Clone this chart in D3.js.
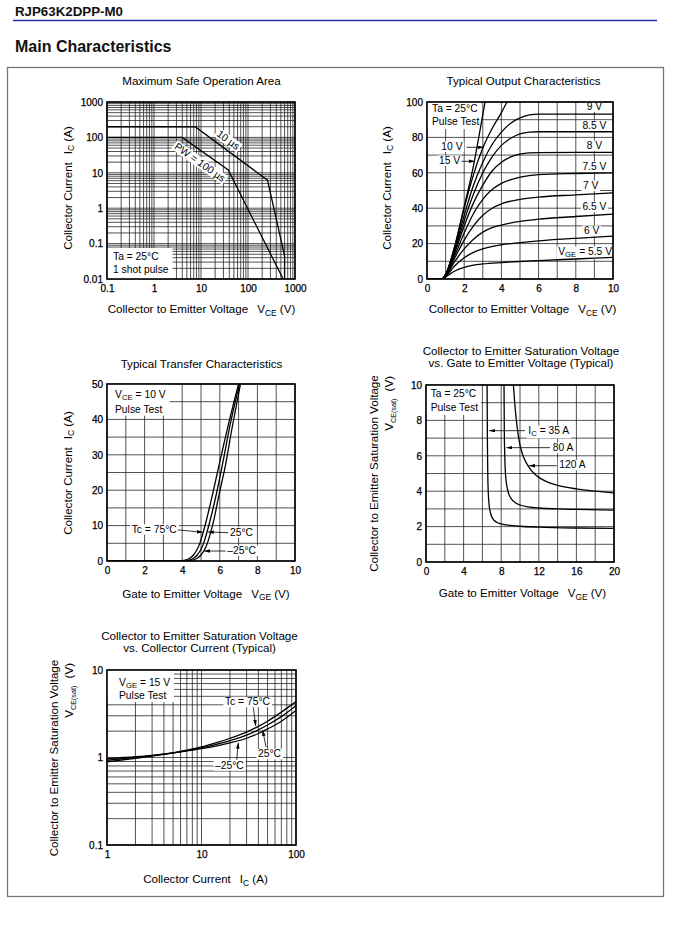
<!DOCTYPE html>
<html>
<head>
<meta charset="utf-8">
<script src="https://cdn.jsdelivr.net/npm/d3@7"></script>
<style>
html,body{margin:0;padding:0;background:#fff;}
svg{display:block;}
</style>
</head>
<body>
<svg id="page" width="681" height="927"></svg>
<script>
// ================= DATA =================
// Chart 1: Maximum Safe Operation Area (VCE [V], IC [A])
const soaVceTicks = [0.1, 1, 10, 100, 1000];
const soaIcTicks = [0.01, 0.1, 1, 10, 100, 1000];
const soa10us = [[0.1,200],[7.5,200],[260,6.2],[600,0.045],[600,0.01]];
const soa100us = [[0.1,100],[4,100],[38,12],[560,0.01]];

// Chart 2: Typical Output Characteristics (VCE [V], IC [A])
const outVceTicks = [0,2,4,6,8,10];
const outIcTicks = [0,20,40,60,80,100];
const outVceGrid = [0,1,2,3,4,5,6,7,8,9,10];
const outIcGrid = [0,10,20,30,40,50,60,70,80,90,100];
const outVge15 = [[0,0],[0.8,0],[1.0,2.5],[1.2,8],[1.5,19],[2.0,41],[2.5,64],[2.85,84],[3.12,100]];
const outVge10 = [[0,0],[0.8,0],[1.0,2.5],[1.2,8],[1.5,18.5],[2.0,40],[2.5,59],[3.0,74],[3.5,85],[4.0,94],[4.3,100]];
const outVge9 = [[0,0],[0.8,0],[1.0,2.4],[1.5,17],[2.0,36],[2.5,53],[3.0,66],[3.5,76],[4.0,83],[4.5,88],[5.0,91],[5.5,92.7],[6.0,93.2],[8,93.2],[10,93.2]];
const outVge8_5 = [[0,0],[0.8,0],[1.0,2.4],[1.5,16],[2.0,33],[2.5,48],[3.0,60],[3.5,69],[4.0,75.5],[4.5,79.5],[5.0,82],[5.5,83],[6.0,83.2],[8,83.2],[10,83.2]];
const outVge8 = [[0,0],[0.8,0],[1.0,2.3],[1.5,15],[2.0,30],[2.5,43],[3.0,53],[3.5,61],[4.0,66],[4.5,69],[5.0,70.5],[5.5,71.2],[6.0,71.4],[8,71.5],[10,71.5]];
const outVge7_5 = [[0,0],[0.8,0],[1.0,2.2],[1.5,13.5],[2.0,26],[2.5,37],[3.0,45],[3.5,50.5],[4.0,54],[5.0,57.5],[6.0,59],[8.0,59.6],[10,60]];
const outVge7 = [[0,0],[0.8,0],[1.0,2.0],[1.5,12],[2.0,22],[2.5,30],[3.0,36],[3.5,40],[4.0,42.5],[5.0,45],[6.0,46.3],[8.0,47.5],[10,48.7]];
const outVge6_5 = [[0,0],[0.8,0],[1.0,1.8],[1.5,10],[2.0,17],[2.5,22.5],[3.0,26.5],[3.5,29],[4.0,30.5],[5.0,32.5],[6.0,33.8],[8.0,35.3],[10,36.7]];
const outVge6 = [[0,0],[0.8,0],[1.0,1.5],[1.5,7.5],[2.0,12],[2.5,15],[3.0,17],[4.0,19.3],[5.0,20.5],[6.0,21.5],[8.0,23],[10,24.2]];
const outVge5_5 = [[0,0],[0.8,0],[1.0,1.2],[1.5,4.5],[2.0,6.5],[2.5,7.8],[3.0,8.5],[4.0,9.3],[5.0,9.9],[6.0,10.4],[8.0,11.3],[10,12.2]];

// Chart 3: Typical Transfer Characteristics (VGE [V], IC [A])
const trVgeTicks = [0,2,4,6,8,10];
const trIcTicks = [0,10,20,30,40,50];
const trVgeGrid = [0,1,2,3,4,5,6,7,8,9,10];
const trIcGrid = [0,5,10,15,20,25,30,35,40,45,50];
const trTc75 = [[0,0],[3.7,0],[4.1,0.2],[4.4,0.8],[4.6,1.7],[4.8,3.3],[4.95,5.2],[5.1,7.8],[5.3,11.8],[5.6,18.5],[6.0,28],[6.5,39.5],[7.0,50]];
const trTc25 = [[0,0],[3.9,0],[4.3,0.2],[4.6,0.8],[4.8,1.7],[5.0,3.3],[5.15,5.2],[5.3,7.8],[5.5,11.8],[5.8,18.5],[6.15,27.5],[6.55,38.5],[7.05,50]];
const trTcM25 = [[0,0],[4.1,0],[4.5,0.2],[4.8,0.8],[5.0,1.7],[5.2,3.3],[5.35,5.2],[5.5,7.8],[5.7,12],[5.95,18.5],[6.3,27],[6.65,37.5],[7.1,50]];

// Chart 4: VCE(sat) vs VGE (VGE [V], VCE(sat) [V])
const satVgeTicks = [0,4,8,12,16,20];
const satVceTicks = [0,2,4,6,8,10];
const satVgeGrid = [0,2,4,6,8,10,12,14,16,18,20];
const satVceGrid = [0,1,2,3,4,5,6,7,8,9,10];
const satIc35 = [[6.5,10],[6.53,7],[6.57,5],[6.62,4],[6.7,3.3],[6.85,2.8],[7.1,2.45],[7.5,2.25],[8,2.15],[9,2.07],[10,2.02],[12,1.97],[16,1.92],[20,1.9]];
const satIc80 = [[8.3,10],[8.33,7.5],[8.38,6],[8.45,5],[8.6,4.3],[8.8,3.85],[9.1,3.55],[9.5,3.35],[10,3.22],[11,3.1],[12,3.05],[14,3.0],[16,2.97],[20,2.93]];
const satIc120 = [[9.3,10],[9.5,8.6],[9.7,7.6],[10,6.6],[10.4,5.9],[10.9,5.4],[11.5,5.0],[12,4.78],[13,4.5],[14,4.33],[16,4.13],[18,4.0],[20,3.9]];

// Chart 5: VCE(sat) vs IC (IC [A], VCE(sat) [V])
const sicIcTicks = [1, 10, 100];
const sicVceTicks = [0.1, 1, 10];
const sicTc75 = [[1,0.89],[2,0.98],[3,1.04],[5,1.13],[7,1.21],[10,1.32],[15,1.5],[20,1.66],[30,1.95],[40,2.27],[50,2.6],[70,3.3],[100,4.35]];
const sicTc25 = [[1,0.93],[2,1.0],[3,1.05],[5,1.13],[7,1.2],[10,1.29],[15,1.43],[20,1.56],[30,1.8],[40,2.07],[50,2.35],[70,2.93],[100,3.9]];
const sicTcM25 = [[1,0.97],[2,1.02],[3,1.06],[5,1.13],[7,1.19],[10,1.26],[15,1.37],[20,1.47],[30,1.66],[40,1.88],[50,2.12],[70,2.6],[100,3.45]];

// ================= DRAWING =================
const FONT = '"Liberation Sans", Arial, Helvetica, sans-serif';
const svg = d3.select("#page").attr("font-family", FONT);
const defs = svg.append("defs");
defs.append("marker").attr("id","ah").attr("viewBox","0 0 10 6")
  .attr("refX",10).attr("refY",3).attr("markerWidth",6).attr("markerHeight",3.6)
  .attr("markerUnits","userSpaceOnUse").attr("orient","auto")
  .append("path").attr("d","M0,0 L10,3 L0,6 Z").attr("fill","#000");

// header
svg.append("text").attr("x",15).attr("y",16).attr("font-size",13.3).attr("font-weight","bold").attr("fill","#111").text("RJP63K2DPP-M0");
svg.append("line").attr("x1",13).attr("x2",657).attr("y1",20.5).attr("y2",20.5).attr("stroke","#2b2bab").attr("stroke-width",1.4);
svg.append("text").attr("x",15).attr("y",52).attr("font-size",16).attr("font-weight","bold").attr("fill","#111").text("Main Characteristics");
svg.append("rect").attr("x",7.5).attr("y",67.5).attr("width",656).attr("height",829).attr("fill","none").attr("stroke","#777").attr("stroke-width",1.3);

function addRich(text, parts, subSize, shift) {
  subSize = subSize || 8.4; shift = shift || 2.8;
  let inSub = false;
  parts.forEach(p => {
    if (typeof p === "string") p = {t:p};
    const ts = text.append("tspan").text(p.t);
    let dy = 0;
    if (p.sub && !inSub) { dy = shift; inSub = true; }
    else if (!p.sub && inSub) { dy = -shift; inSub = false; }
    if (dy) ts.attr("dy", dy);
    if (p.dx) ts.attr("dx", p.dx);
    if (p.sub) ts.attr("font-size", p.size || subSize);
  });
}

let clipN = 0;
function chart(o) {
  const x = (o.xLog ? d3.scaleLog() : d3.scaleLinear()).domain(o.xDomain).range([o.left, o.right]);
  const y = (o.yLog ? d3.scaleLog() : d3.scaleLinear()).domain(o.yDomain).range([o.bottom, o.top]);
  const g = svg.append("g");
  const id = "clip" + (clipN++);
  defs.append("clipPath").attr("id", id).append("rect")
    .attr("x", o.left).attr("y", o.top).attr("width", o.right - o.left).attr("height", o.bottom - o.top);
  const grid = g.append("g").attr("stroke", "#1a1a1a").attr("stroke-width", 0.75);
  grid.selectAll(null).data(o.xGrid || x.ticks()).join("line")
    .attr("x1", d => x(d)).attr("x2", d => x(d)).attr("y1", o.top).attr("y2", o.bottom);
  grid.selectAll(null).data(o.yGrid || y.ticks()).join("line")
    .attr("y1", d => y(d)).attr("y2", d => y(d)).attr("x1", o.left).attr("x2", o.right);
  const fmt = d3.format("~g");
  const xa = g.append("g").attr("transform", `translate(0,${o.bottom})`)
    .call(d3.axisBottom(x).tickValues(o.xTicks).tickFormat(fmt).tickSize(0).tickPadding(6));
  const ya = g.append("g").attr("transform", `translate(${o.left},0)`)
    .call(d3.axisLeft(y).tickValues(o.yTicks).tickFormat(fmt).tickSize(0).tickPadding(4));
  [xa, ya].forEach(a => {
    a.select(".domain").remove();
    a.attr("font-family", FONT).attr("font-size", 10);
    a.selectAll("text").attr("fill", "#000").attr("stroke", "#000").attr("stroke-width", 0.25);
  });
  const labels = g.append("g");
  const curves = g.append("g").attr("clip-path", `url(#${id})`).attr("fill", "none").attr("stroke", "#000").attr("stroke-width", 1.3);
  const arrows = g.append("g").attr("stroke", "#000").attr("stroke-width", 0.8);
  g.append("rect").attr("x", o.left).attr("y", o.top).attr("width", o.right - o.left).attr("height", o.bottom - o.top)
    .attr("fill", "none").attr("stroke", "#000").attr("stroke-width", 1.6);
  // titles
  o.title.forEach((t, i) => {
    g.append("text").attr("x", o.titleX).attr("y", o.titleY[i]).attr("text-anchor", "middle")
      .attr("font-size", 11.6).text(t);
  });
  const xt = g.append("text").attr("x", o.xTitleX).attr("y", o.xTitleY).attr("text-anchor", "middle").attr("font-size", 11.6);
  addRich(xt, o.xTitle);
  o.yTitle.forEach(yt => {
    const t = g.append("text").attr("transform", `translate(${yt.x},${yt.y}) rotate(-90)`)
      .attr("text-anchor", yt.anchor || "middle").attr("font-size", 11.6);
    addRich(t, yt.parts, yt.subSize, yt.shift);
  });
  const line = d3.line().x(d => x(d[0])).y(d => y(d[1])).curve(o.curve || d3.curveLinear);
  return {x, y, o, labels, curves, arrows, line};
}

function drawCurve(ch, data) {
  ch.curves.append("path").attr("d", ch.line(data));
}

function note(ch, xv, yv, parts, opt) {
  opt = opt || {};
  let px = ch.x(xv), py = ch.y(yv);
  const g = ch.labels.append("g").attr("transform", `translate(${px},${py})` + (opt.angle ? ` rotate(${opt.angle})` : ""));
  const rect = g.append("rect").attr("fill", "#fff");
  const t = g.append("text").attr("font-size", 10.3).attr("text-anchor", opt.anchor || "start");
  if (opt.dy) t.attr("dy", opt.dy);
  addRich(t, parts, 7.8, 2.3);
  const b = t.node().getBBox();
  rect.attr("x", b.x - 1.5).attr("y", b.y + 0.5).attr("width", b.width + 3).attr("height", b.height - 0.5);
}

function arrow(ch, from, to) {
  ch.arrows.append("line").attr("x1", ch.x(from[0])).attr("y1", ch.y(from[1]))
    .attr("x2", ch.x(to[0])).attr("y2", ch.y(to[1])).attr("marker-end", "url(#ah)");
}

// corner box with lines of text; pos: 'tl' or 'bl'
function cornerBox(ch, lines, opt) {
  const o = ch.o;
  const g = ch.labels.append("g");
  const rect = g.append("rect").attr("fill", "#fff");
  let maxW = 0;
  lines.forEach((parts, i) => {
    const t = g.append("text").attr("x", o.left + opt.dx).attr("y", opt.baselines[i]).attr("font-size", 10.3);
    addRich(t, parts, 7.8, 2.0);
    maxW = Math.max(maxW, t.node().getComputedTextLength());
  });
  const w = opt.dx + maxW + (opt.padR || 3);
  if (opt.pos === "bl") {
    const y0 = opt.baselines[0] - 12;
    rect.attr("x", o.left).attr("y", y0).attr("width", w).attr("height", o.bottom - y0);
  } else {
    const y1 = opt.baselines[opt.baselines.length - 1] + (opt.padB || 4);
    rect.attr("x", o.left).attr("y", o.top).attr("width", w).attr("height", y1 - o.top);
  }
}

const angleOf = (ch, a, b) => Math.atan2(ch.y(b[1]) - ch.y(a[1]), ch.x(b[0]) - ch.x(a[0])) * 180 / Math.PI;

// ---------- Chart 1 ----------
const c1 = chart({
  left: 107, right: 295, top: 102, bottom: 279,
  xLog: true, yLog: true, xDomain: [0.1, 1000], yDomain: [0.01, 1000],
  xTicks: soaVceTicks, yTicks: soaIcTicks,
  title: ["Maximum Safe Operation Area"], titleX: 201.5, titleY: [84.5],
  xTitle: ["Collector to Emitter Voltage", {t: "V", dx: 9}, {t: "CE", sub: true}, " (V)"], xTitleX: 201.5, xTitleY: 313,
  yTitle: [{x: 71.5, y: 188, parts: ["Collector Current", {t: "I", dx: 8}, {t: "C", sub: true}, " (A)"]}]
});
cornerBox(c1, [["Ta = 25°C"], ["1 shot pulse"]], {pos: "bl", dx: 6, baselines: [260, 273], padR: 4});
note(c1, 38, 84.5, ["10 µs"], {anchor: "middle", dy: 3.5, angle: angleOf(c1, soa10us[1], soa10us[2])});
note(c1, 9.5, 19.8, ["PW = 100 µs"], {anchor: "middle", dy: 3.5, angle: angleOf(c1, soa100us[1], soa100us[2])});
drawCurve(c1, soa10us);
drawCurve(c1, soa100us);

// ---------- Chart 2 ----------
const c2 = chart({
  left: 427, right: 613, top: 102, bottom: 279,
  xDomain: [0, 10], yDomain: [0, 100], xTicks: outVceTicks, yTicks: outIcTicks,
  xGrid: outVceGrid, yGrid: outIcGrid, curve: d3.curveMonotoneX,
  title: ["Typical Output Characteristics"], titleX: 523.5, titleY: [84.5],
  xTitle: ["Collector to Emitter Voltage", {t: "V", dx: 9}, {t: "CE", sub: true}, " (V)"], xTitleX: 522.5, xTitleY: 313,
  yTitle: [{x: 390.5, y: 188, parts: ["Collector Current", {t: "I", dx: 8}, {t: "C", sub: true}, " (A)"]}]
});
cornerBox(c2, [["Ta = 25°C"], ["Pulse Test"]], {pos: "tl", dx: 5, baselines: [112.3, 125], padR: 2, padB: 4});
note(c2, 1.34, (279 - 150) / 1.77, ["10 V"], {anchor: "middle"});
note(c2, 1.21, (279 - 164) / 1.77, ["15 V"], {anchor: "middle"});
arrow(c2, [2.13, 74.4], [3.06, 74.4]);
arrow(c2, [1.86, 66.5], [2.57, 66.5]);
const outLabelPos = [
  [outVge9, "9 V", 9.0, 95.5], [outVge8_5, "8.5 V", 9.0, 84.7], [outVge8, "8 V", 9.0, 73.4],
  [outVge7_5, "7.5 V", 9.0, 61.6], [outVge7, "7 V", 8.8, 50.8], [outVge6_5, "6.5 V", 9.0, 39],
  [outVge6, "6 V", 8.85, 25.4]
];
outLabelPos.forEach(d => note(c2, d[2], d[3], [d[1]], {anchor: "middle"}));
note(c2, 8.5, 13.6, ["V", {t: "GE", sub: true}, " = 5.5 V"], {anchor: "middle"});
[outVge15, outVge10, outVge9, outVge8_5, outVge8, outVge7_5, outVge7, outVge6_5, outVge6, outVge5_5].forEach(s => drawCurve(c2, s));

// ---------- Chart 3 ----------
const c3 = chart({
  left: 107, right: 295, top: 384, bottom: 561,
  xDomain: [0, 10], yDomain: [0, 50], xTicks: trVgeTicks, yTicks: trIcTicks,
  xGrid: trVgeGrid, yGrid: trIcGrid, curve: d3.curveMonotoneX,
  title: ["Typical Transfer Characteristics"], titleX: 201.5, titleY: [367.5],
  xTitle: ["Gate to Emitter Voltage", {t: "V", dx: 9}, {t: "GE", sub: true}, " (V)"], xTitleX: 206, xTitleY: 597.5,
  yTitle: [{x: 71.5, y: 473, parts: ["Collector Current", {t: "I", dx: 8}, {t: "C", sub: true}, " (A)"]}]
});
cornerBox(c3, [["V", {t: "CE", sub: true}, " = 10 V"], ["Pulse Test"]], {pos: "tl", dx: 8, baselines: [398.3, 412.7], padR: 4, padB: 3});
note(c3, 3.71, 8.0, ["Tc = 75°C"], {anchor: "end"});
note(c3, 6.54, 7.15, ["25°C"]);
note(c3, 6.4, 1.98, ["\u201325°C"]);
arrow(c3, [3.76, 8.8], [5.1, 8.1]);
arrow(c3, [6.45, 8.0], [5.36, 8.2]);
arrow(c3, [6.31, 2.82], [5.16, 2.82]);
[trTc75, trTc25, trTcM25].forEach(s => drawCurve(c3, s));

// ---------- Chart 4 ----------
const c4 = chart({
  left: 426, right: 614, top: 385, bottom: 562,
  xDomain: [0, 20], yDomain: [0, 10], xTicks: satVgeTicks, yTicks: satVceTicks,
  xGrid: satVgeGrid, yGrid: satVceGrid, curve: d3.curveMonotoneX,
  title: ["Collector to Emitter Saturation Voltage", "vs. Gate to Emitter Voltage (Typical)"], titleX: 521, titleY: [355, 366.8],
  xTitle: ["Gate to Emitter Voltage", {t: "V", dx: 9}, {t: "GE", sub: true}, " (V)"], xTitleX: 522.5, xTitleY: 597,
  yTitle: [
    {x: 378, y: 473.5, parts: ["Collector to Emitter Saturation Voltage"]},
    {x: 393, y: 376, anchor: "end", parts: ["V", {t: "CE(sat)", sub: true, size: 7.2}, {t: " (V)", dx: 4}], shift: 2.6}
  ]
});
cornerBox(c4, [["Ta = 25°C"], ["Pulse Test"]], {pos: "tl", dx: 4.7, baselines: [397.3, 411], padR: 3, padB: 4});
note(c4, 10.88, 7.23, ["I", {t: "C", sub: true}, " = 35 A"]);
note(c4, 13.48, 6.27, ["80 A"]);
note(c4, 14.18, 5.29, ["120 A"]);
arrow(c4, [10.53, 7.42], [6.72, 7.42]);
arrow(c4, [13.19, 6.46], [8.55, 6.46]);
arrow(c4, [13.9, 5.44], [10.95, 5.44]);
[satIc35, satIc80, satIc120].forEach(s => drawCurve(c4, s));

// ---------- Chart 5 ----------
const c5 = chart({
  left: 107, right: 296, top: 670, bottom: 845,
  xLog: true, yLog: true, xDomain: [1, 100], yDomain: [0.1, 10],
  xTicks: sicIcTicks, yTicks: sicVceTicks, curve: d3.curveMonotoneX,
  title: ["Collector to Emitter Saturation Voltage", "vs. Collector Current (Typical)"], titleX: 199.5, titleY: [639.5, 652],
  xTitle: ["Collector Current", {t: "I", dx: 9}, {t: "C", sub: true}, " (A)"], xTitleX: 205.5, xTitleY: 883,
  yTitle: [
    {x: 58, y: 758, parts: ["Collector to Emitter Saturation Voltage"]},
    {x: 73, y: 663, anchor: "end", parts: ["V", {t: "CE(sat)", sub: true, size: 7.2}, {t: " (V)", dx: 4}], shift: 2.6}
  ]
});
cornerBox(c5, [["V", {t: "GE", sub: true}, " = 15 V"], ["Pulse Test"]], {pos: "tl", dx: 12, baselines: [686.3, 699], padR: 4, padB: 3});
note(c5, 17.7, 3.95, ["Tc = 75°C"]);
note(c5, 39.6, 1.005, ["25°C"]);
note(c5, 13.9, 0.745, ["\u201325°C"]);
arrow(c5, [35.3, 3.75], [37.5, 2.29]);
arrow(c5, [48.2, 1.31], [44.4, 2.06]);
arrow(c5, [23.6, 0.936], [24.5, 1.476]);
[sicTc75, sicTc25, sicTcM25].forEach(s => drawCurve(c5, s));
</script>
</body>
</html>
